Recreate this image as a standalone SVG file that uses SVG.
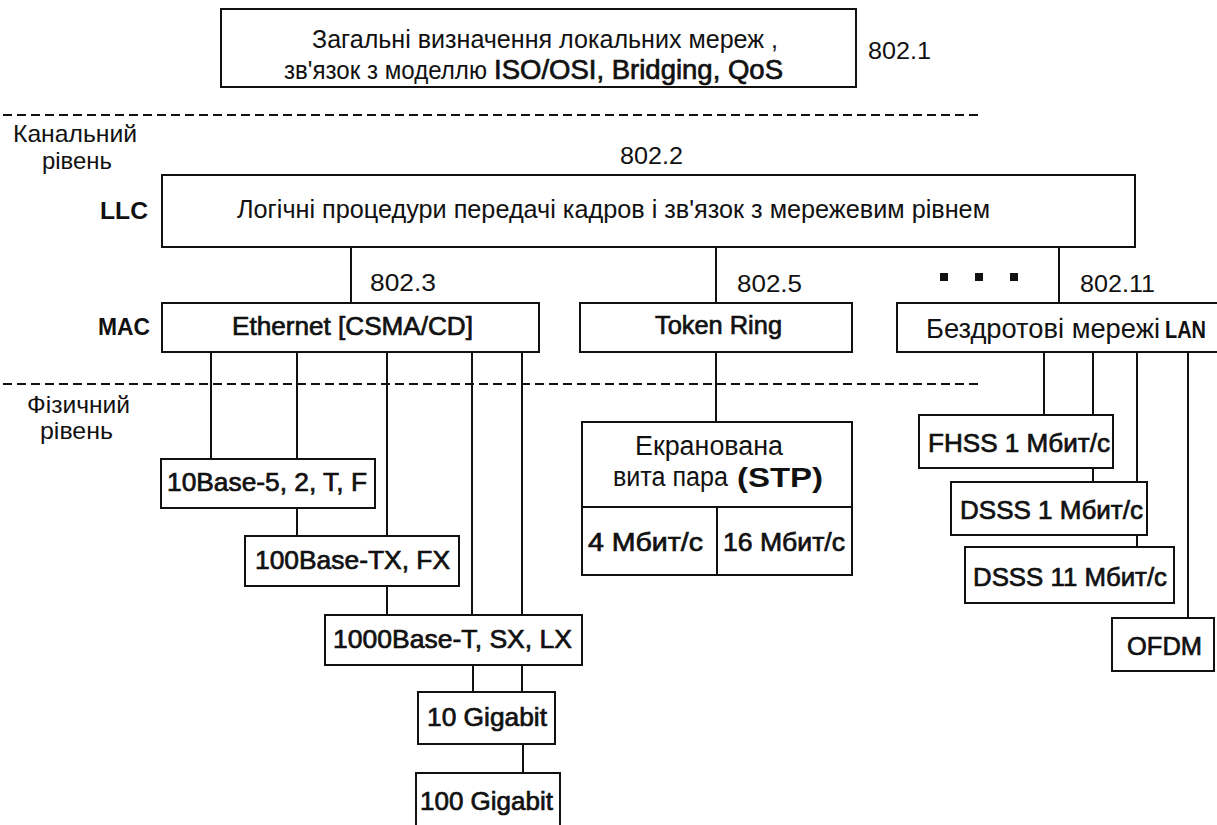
<svg xmlns="http://www.w3.org/2000/svg" width="1217" height="825" viewBox="0 0 1217 825">
<style>
text{font-family:"Liberation Sans",Arial,sans-serif;fill:#111}
.r{font-weight:normal}
.m{font-weight:normal;stroke:#111;stroke-width:0.7}
.b{font-weight:bold}
.box{fill:#fff;stroke:#111;stroke-width:2}
.ln{stroke:#111;stroke-width:2;fill:none}
.dash{stroke:#111;stroke-width:2;stroke-dasharray:9 5;fill:none}
</style>
<rect width="1217" height="825" fill="#fff"/>
<g id="layers">
<line class="dash" x1="3" y1="115" x2="982" y2="115"/>
<line class="dash" x1="3" y1="384" x2="982" y2="384"/>
<text class="r" x="13" y="142" font-size="24" textLength="124" lengthAdjust="spacingAndGlyphs">Канальний</text>
<text class="r" x="42" y="169" font-size="24" textLength="70" lengthAdjust="spacingAndGlyphs">рівень</text>
<text class="r" x="27" y="413" font-size="24" textLength="103" lengthAdjust="spacingAndGlyphs">Фізичний</text>
<text class="r" x="40" y="439" font-size="24" textLength="73" lengthAdjust="spacingAndGlyphs">рівень</text>
<text class="b" x="100" y="219" font-size="24" textLength="48" lengthAdjust="spacingAndGlyphs">LLC</text>
<text class="b" x="98" y="335" font-size="24" textLength="52" lengthAdjust="spacingAndGlyphs">MAC</text>
</g>
<g id="connectors">
<path class="ln" d="M351 247V303M716 247V303M1059 247V303"/>
<path class="ln" d="M211 352V459M297 352V459M387 352V536M472 352V615M522 352V615"/>
<path class="ln" d="M297 508V536M387 586V615M473 665V692M522 665V692M523 744V773"/>
<path class="ln" d="M716 352V422"/>
<path class="ln" d="M1044 352V415M1093 352V482M1137 352V547M1188 352V618"/>
<rect x="940" y="273" width="8" height="8" fill="#111"/>
<rect x="975" y="273" width="8" height="8" fill="#111"/>
<rect x="1010" y="273" width="8" height="8" fill="#111"/>
</g>
<g id="n8021">
<rect class="box" x="221" y="9" width="635" height="78"/>
<text class="r" x="312" y="48" font-size="26" textLength="466" lengthAdjust="spacingAndGlyphs">Загальні визначення локальних мереж ,</text>
<text class="r" x="284" y="79" font-size="25" textLength="203" lengthAdjust="spacingAndGlyphs">зв'язок з моделлю</text>
<text class="m" x="494" y="79" font-size="27" textLength="289" lengthAdjust="spacingAndGlyphs">ISO/OSI, Bridging, QoS</text>
<text class="r" x="868" y="59" font-size="24" textLength="63" lengthAdjust="spacingAndGlyphs">802.1</text>
</g>
<g id="llc">
<text class="r" x="620" y="164" font-size="24" textLength="63" lengthAdjust="spacingAndGlyphs">802.2</text>
<rect class="box" x="162" y="175" width="973" height="72"/>
<text class="r" x="237" y="218" font-size="26" textLength="753" lengthAdjust="spacingAndGlyphs">Логічні процедури передачі кадров і зв'язок з мережевим рівнем</text>
</g>
<g id="ethernet">
<text class="r" x="370" y="291" font-size="24" textLength="66" lengthAdjust="spacingAndGlyphs">802.3</text>
<rect class="box" x="162" y="303" width="377" height="49"/>
<text class="m" x="232" y="335" font-size="26" textLength="241" lengthAdjust="spacingAndGlyphs">Ethernet [CSMA/CD]</text>
</g>
<g id="tokenring">
<text class="r" x="737" y="292" font-size="24" textLength="65" lengthAdjust="spacingAndGlyphs">802.5</text>
<rect class="box" x="580" y="303" width="272" height="49"/>
<text class="m" x="655" y="334" font-size="26" textLength="127" lengthAdjust="spacingAndGlyphs">Token Ring</text>
</g>
<g id="wireless">
<text class="r" x="1080" y="292" font-size="24" textLength="75" lengthAdjust="spacingAndGlyphs">802.11</text>
<rect class="box" x="897" y="303" width="325" height="49"/>
<text class="r" x="926" y="338" font-size="27" textLength="234" lengthAdjust="spacingAndGlyphs">Бездротові мережі</text>
<text class="b" x="1165" y="338" font-size="23" textLength="41" lengthAdjust="spacingAndGlyphs">LAN</text>
</g>
<g id="base10">
<rect class="box" x="161" y="459" width="214" height="49"/>
<text class="m" x="167" y="491" font-size="26" textLength="200" lengthAdjust="spacingAndGlyphs">10Base-5, 2, T, F</text>
</g>
<g id="base100">
<rect class="box" x="245" y="536" width="214" height="50"/>
<text class="m" x="255" y="569" font-size="26" textLength="195" lengthAdjust="spacingAndGlyphs">100Base-TX, FX</text>
</g>
<g id="base1000">
<rect class="box" x="325" y="615" width="257" height="50"/>
<text class="m" x="333" y="648" font-size="26" textLength="239" lengthAdjust="spacingAndGlyphs">1000Base-T, SX, LX</text>
</g>
<g id="gig10">
<rect class="box" x="418" y="692" width="137" height="52"/>
<text class="m" x="427" y="726" font-size="26" textLength="120" lengthAdjust="spacingAndGlyphs">10 Gigabit</text>
</g>
<g id="gig100">
<path class="box" d="M416 830V773H560V830"/>
<text class="m" x="420" y="810" font-size="26" textLength="133" lengthAdjust="spacingAndGlyphs">100 Gigabit</text>
</g>
<g id="stp">
<rect class="box" x="582" y="422" width="270" height="153"/>
<path class="ln" d="M582 507H852M717 507V575"/>
<text class="r" x="635" y="455" font-size="27" textLength="148" lengthAdjust="spacingAndGlyphs">Екранована</text>
<text class="r" x="613" y="486" font-size="27" textLength="115" lengthAdjust="spacingAndGlyphs">вита пара</text>
<text class="b" x="737" y="487" font-size="28" textLength="86" lengthAdjust="spacingAndGlyphs">(STP)</text>
<text class="m" x="588" y="551" font-size="26" textLength="115" lengthAdjust="spacingAndGlyphs">4 Мбит/с</text>
<text class="m" x="723" y="551" font-size="26" textLength="122" lengthAdjust="spacingAndGlyphs">16 Мбит/с</text>
</g>
<g id="fhss">
<rect class="box" x="919" y="415" width="194" height="53"/>
<text class="m" x="928" y="452" font-size="26" textLength="182" lengthAdjust="spacingAndGlyphs">FHSS 1 Мбит/с</text>
</g>
<g id="dsss1">
<rect class="box" x="951" y="482" width="196" height="53"/>
<text class="m" x="960" y="519" font-size="26" textLength="183" lengthAdjust="spacingAndGlyphs">DSSS 1 Мбит/с</text>
</g>
<g id="dsss11">
<rect class="box" x="965" y="547" width="209" height="56"/>
<text class="m" x="973" y="586" font-size="26" textLength="194" lengthAdjust="spacingAndGlyphs">DSSS 11 Мбит/с</text>
</g>
<g id="ofdm">
<rect class="box" x="1112" y="618" width="102" height="53"/>
<text class="m" x="1127" y="655" font-size="26" textLength="75" lengthAdjust="spacingAndGlyphs">OFDM</text>
</g>
</svg>
